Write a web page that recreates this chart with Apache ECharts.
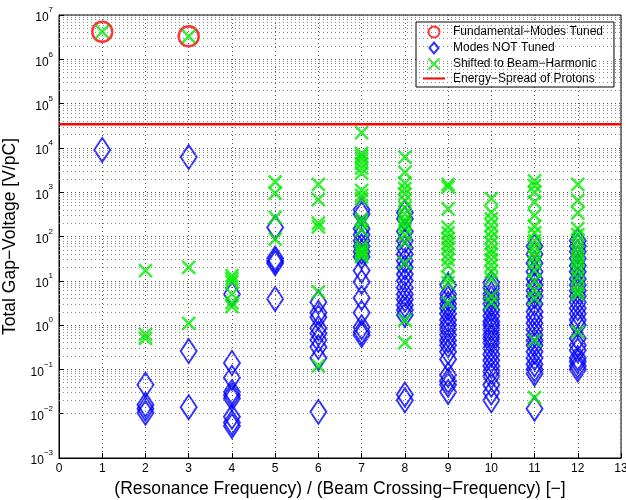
<!DOCTYPE html>
<html>
<head>
<meta charset="utf-8">
<script src="https://cdn.jsdelivr.net/npm/echarts@6/dist/echarts.min.js"></script>
<style>
html, body { margin: 0; padding: 0; background: #fff; }
#chart { width: 626px; height: 500px; }
</style>
</head>
<body>
<div id="chart"></div>
<script>
// harmonic number of each column
var harmonics = [1, 2, 3, 4, 5, 6, 7, 8, 9, 10, 11, 12];

var tunedHarmonics = [1, 3];
var tunedVoltage = [4.2e6, 3.3e6];

// modes not tuned, one list per harmonic
var notTunedVoltage = [
    [9000],
    [0.045, 0.016, 0.013, 0.0105],
    [6200, 0.26, 0.014],
    [5, 0.14, 0.065, 0.031, 0.026, 0.022, 0.0085, 0.0063, 0.0053],
    [160, 32, 28, 25, 3.9],
    [3.3, 1.9, 1.5, 0.85, 0.65, 0.46, 0.32, 0.18, 0.011],
    [400, 320, 150, 110, 80, 60, 45, 35, 17, 9.4, 4.1, 1.9, 0.9, 0.7, 0.6],
    [350, 250, 130, 80, 55, 40, 28, 20, 14, 10, 7, 5, 3.8, 2.8, 2.2, 1.7, 0.027, 0.02],
    [8, 5, 4, 3, 2.4, 1.8, 1.3, 1, 0.8, 0.6, 0.45, 0.35, 0.25, 0.17, 0.075, 0.055, 0.045, 0.031],
    [9, 7, 5, 4, 3, 2.2, 1.6, 1.2, 1, 0.8, 0.6, 0.5, 0.4, 0.3, 0.22, 0.16, 0.12, 0.09, 0.07, 0.045, 0.03, 0.02],
    [60, 40, 25, 16, 11, 8, 6, 4.5, 3, 2, 1.5, 1.1, 0.8, 0.6, 0.45, 0.35, 0.25, 0.18, 0.13, 0.1, 0.08, 0.013],
    [80, 60, 45, 32, 22, 16, 11, 8, 6, 4.5, 3.3, 2.4, 1.8, 1.3, 1, 0.5, 0.35, 0.27, 0.18, 0.15, 0.12, 0.1]
];

// modes shifted to a beam harmonic, one list per harmonic
var shiftedVoltage = [
    [4.2e6],
    [17, 0.62, 0.5],
    [3.3e6, 20, 1.1],
    [13, 11, 9.5, 5, 3.2, 2.6],
    [1700, 950, 270, 87],
    [1500, 680, 200, 165, 5.6, 0.12],
    [22000, 7500, 6500, 5600, 4500, 3500, 2700, 1100, 850, 700, 250, 200, 140, 60, 50, 45, 40, 35],
    [6200, 2800, 1600, 1200, 900, 650, 450, 320, 240, 200, 160, 110, 75, 25, 1.3, 0.4],
    [1500, 1300, 420, 160, 120, 90, 70, 55, 40, 30, 22, 12, 9, 3.2],
    [720, 350, 250, 180, 130, 95, 70, 50, 40, 30, 22, 16, 11, 4.5, 3.2],
    [1800, 1400, 1000, 600, 300, 170, 120, 80, 60, 45, 35, 25, 17, 10, 6, 4, 0.45, 0.023],
    [1500, 650, 340, 150, 110, 80, 60, 45, 35, 28, 22, 17, 12, 8, 6, 5, 0.7]
];

var energySpread = 3.4e4;
var xRange = [0, 13];
var yRange = [1e-3, 1e7];

function toPoints(lists) {
    var pts = [];
    lists.forEach(function (vals, i) {
        vals.forEach(function (v) {
            pts.push([harmonics[i], v]);
        });
    });
    return pts;
}

// 2..9 in every decade, for the dotted minor grid
var minorLines = [];
for (var d = Math.log10(yRange[0]); d < Math.log10(yRange[1]); d++) {
    for (var k = 2; k <= 9; k++) {
        minorLines.push({ yAxis: k * Math.pow(10, d) });
    }
}

var font = 'Liberation Sans, Arial, Helvetica, sans-serif';
var dotted = { color: '#555', width: 1, type: [1, 3] };
var dottedMinor = { color: '#8a8a8a', width: 1, type: [1, 3] };

var chart = echarts.init(document.getElementById('chart'));
chart.setOption({
    animation: false,
    backgroundColor: '#fff',
    textStyle: { fontFamily: font },
    grid: {
        left: 59, right: 5, top: 15, bottom: 42,
        show: true, borderColor: '#000', borderWidth: 1,
        containLabel: false,
        outerBoundsMode: 'none'
    },
    legend: {
        data: [
            { name: 'Fundamental\u2212Modes Tuned' },
            { name: 'Modes NOT Tuned', icon: 'path://M7,0L14,8.5L7,17L0,8.5Z' },
            { name: 'Shifted to Beam\u2212Harmonic' },
            { name: 'Energy\u2212Spread of Protons', itemStyle: { opacity: 0 } }
        ],
        orient: 'vertical',
        left: 416, top: 22,
        padding: [2, 11, 2, 6],
        itemGap: 0,
        itemWidth: 22, itemHeight: 11,
        backgroundColor: '#fff',
        borderColor: '#000', borderWidth: 1,
        textStyle: { fontSize: 12, lineHeight: 13, color: '#000', fontFamily: font, padding: [0, 0, 0, 3] }
    },
    xAxis: {
        type: 'value',
        min: xRange[0], max: xRange[1], interval: 1,
        name: '(Resonance Frequency) / (Beam Crossing\u2212Frequency) [\u2212]',
        nameLocation: 'middle', nameGap: 18,
        nameTextStyle: { fontSize: 17.5, color: '#000' },
        axisLine: { lineStyle: { color: '#000' } },
        axisTick: { inside: true, length: 5, lineStyle: { color: '#000' } },
        axisLabel: { fontSize: 12, color: '#000', margin: 5 },
        splitLine: { lineStyle: dotted }
    },
    yAxis: {
        type: 'log', logBase: 10,
        min: yRange[0], max: yRange[1], interval: 1, splitNumber: 10,
        name: 'Total Gap\u2212Voltage [V/pC]',
        nameLocation: 'middle', nameGap: 31,
        nameTextStyle: { fontSize: 17.5, color: '#000' },
        axisLine: { lineStyle: { color: '#000' } },
        axisTick: { inside: true, length: 5, lineStyle: { color: '#000' } },
        axisLabel: {
            fontSize: 12, color: '#000', margin: 6,
            formatter: function (v) {
                var e = Math.round(Math.log10(v));
                return '{b|10}{sup|' + String(e).replace('-', '\u2212') + '}';
            },
            rich: {
                b: { fontSize: 12, lineHeight: 18, verticalAlign: 'bottom' },
                sup: { fontSize: 8, lineHeight: 9, verticalAlign: 'top' }
            }
        },
        splitLine: { lineStyle: dotted }
    },
    series: [
        {
            type: 'scatter',
            silent: true,
            data: [],
            z: 1,
            markLine: {
                silent: true,
                symbol: ['none', 'none'],
                label: { show: false },
                lineStyle: dottedMinor,
                data: minorLines
            }
        },
        {
            name: 'Fundamental\u2212Modes Tuned',
            type: 'scatter',
            symbol: 'circle',
            symbolSize: 20,
            itemStyle: { color: 'none', borderColor: '#ff0000', borderWidth: 2.5 },
            data: tunedHarmonics.map(function (h, i) { return [h, tunedVoltage[i]]; })
        },
        {
            name: 'Modes NOT Tuned',
            type: 'scatter',
            symbol: 'diamond',
            symbolSize: [16, 24],
            itemStyle: { color: 'none', borderColor: '#0000ff', borderWidth: 2 },
            data: toPoints(notTunedVoltage)
        },
        {
            name: 'Shifted to Beam\u2212Harmonic',
            type: 'scatter',
            symbol: 'path://M0,0L10,10M0,10L10,0',
            symbolSize: 13,
            itemStyle: { color: 'none', borderColor: '#00ee00', borderWidth: 2.5 },
            data: toPoints(shiftedVoltage)
        },
        {
            name: 'Energy\u2212Spread of Protons',
            type: 'line',
            symbol: 'none',
            lineStyle: { color: '#ff0000', width: 2.5 },
            itemStyle: { color: '#ff0000' },
            data: xRange.map(function (x) { return [x, energySpread]; })
        }
    ]
});
</script>
</body>
</html>
